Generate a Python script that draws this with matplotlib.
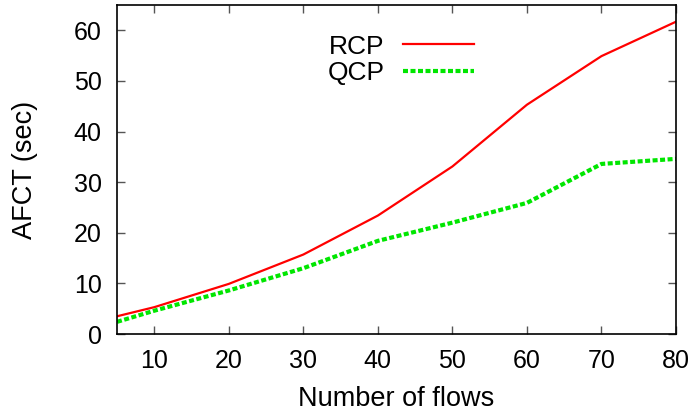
import matplotlib
matplotlib.use("Agg")
import matplotlib.pyplot as plt

flows = [5, 10, 20, 30, 40, 50, 60, 70, 80]
rcp = [3.5, 5.3, 9.9, 15.7, 23.4, 33.1, 45.3, 54.9, 61.7]
qcp = [2.4, 4.6, 8.6, 13.0, 18.4, 22.0, 25.9, 33.6, 34.6]

plt.rcParams["font.family"] = ["Liberation Sans", "DejaVu Sans"]

fig = plt.figure(figsize=(6.98, 4.17), dpi=100)
ax = fig.add_axes([117 / 698, 1 - 334 / 417, (676 - 117) / 698, (334 - 5) / 417])

ax.plot(flows, rcp, color="#ff0000", lw=1.6, label="RCP")
ax.plot(flows, qcp, color="#00e600", lw=3, dashes=(1.2, 0.6), label="QCP")

ax.set_xlim(5, 80)
ax.set_ylim(0, 65)
ax.set_xticks(range(10, 81, 10))
ax.set_yticks(range(0, 61, 10))
ax.tick_params(direction="in", top=True, right=True, length=6, width=1,
               color="#555555", pad=11, labelsize=18)
for s in ax.spines.values():
    s.set_linewidth(1.2)

ax.set_xlabel("Number of flows", fontsize=19.5, labelpad=9)
ax.set_ylabel("AFCT (sec)", fontsize=19.5, labelpad=26)

leg = ax.legend(loc="upper right", bbox_to_anchor=(0.639, 0.91), frameon=False,
                markerfirst=False, handlelength=2.7, handletextpad=0.7,
                labelspacing=0.1, borderaxespad=0, borderpad=0, fontsize=19)

fig.savefig("out.png", dpi=100)
